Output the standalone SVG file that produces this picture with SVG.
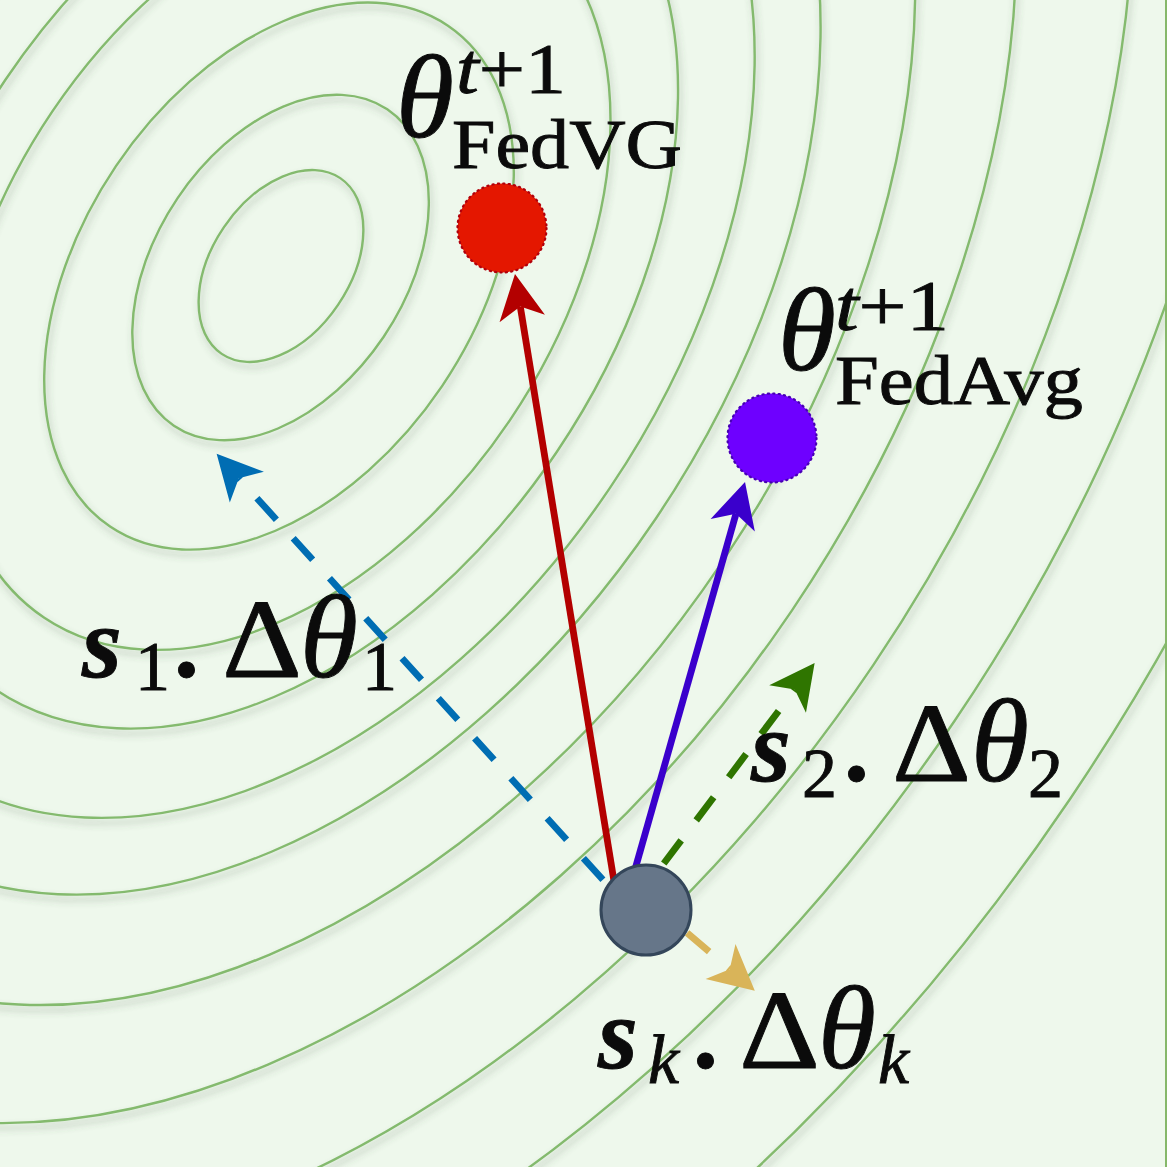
<svg xmlns="http://www.w3.org/2000/svg" width="1167" height="1167" viewBox="0 0 1167 1167">
<defs>
<style>
.ct{fill:none;stroke:#84ba6e;stroke-width:2.4}
.math{font-family:"Liberation Serif","DejaVu Serif",serif;fill:#0b0b0b;stroke:#0b0b0b;stroke-width:0.9}
.it{font-style:italic}
.bd{font-weight:bold}
.edge{fill:none;stroke-width:6.8;stroke-linecap:butt}
.dash{stroke-dasharray:29 25}
.dot{stroke-width:2.2;stroke-dasharray:1.2 4.2;stroke-linecap:round}
</style>
<filter id="shadow" filterUnits="userSpaceOnUse" x="0" y="0" width="1167" height="1167">
<feDropShadow dx="2" dy="5" stdDeviation="3.5" flood-color="#46584a" flood-opacity="0.38"/>
</filter>
<marker id="ah-red" markerUnits="userSpaceOnUse" viewBox="-15 -25 50 50" refX="0" refY="0" markerWidth="50" markerHeight="50" orient="auto"><path d="M33,0 L-12,-23 L0,0 L-12,23 Z" fill="#b30000"/></marker>
<marker id="ah-purple" markerUnits="userSpaceOnUse" viewBox="-15 -25 50 50" refX="0" refY="0" markerWidth="50" markerHeight="50" orient="auto"><path d="M33,0 L-12,-23 L0,0 L-12,23 Z" fill="#3a00cc"/></marker>
<marker id="ah-blue" markerUnits="userSpaceOnUse" viewBox="-15 -25 50 50" refX="0" refY="0" markerWidth="50" markerHeight="50" orient="auto"><path d="M33,0 L-12,-23 L0,0 L-12,23 Z" fill="#006db3"/></marker>
<marker id="ah-green" markerUnits="userSpaceOnUse" viewBox="-15 -25 50 50" refX="0" refY="0" markerWidth="50" markerHeight="50" orient="auto"><path d="M33,0 L-12,-23 L0,0 L-12,23 Z" fill="#2f7500"/></marker>
<marker id="ah-yellow" markerUnits="userSpaceOnUse" viewBox="-15 -25 50 50" refX="0" refY="0" markerWidth="50" markerHeight="50" orient="auto"><path d="M33,0 L-12,-23 L0,0 L-12,23 Z" fill="#d9b459"/></marker>
</defs>

<rect id="background" x="0" y="0" width="1167" height="1167" fill="#eef8ec"/>

<g id="contours" filter="url(#shadow)">
<g transform="translate(281,266) rotate(-56)">
<ellipse class="ct" cx="0" cy="0" rx="106" ry="69"/>
<ellipse class="ct" cx="-1.5" cy="0.5" rx="190.8" ry="124.2"/>
<ellipse class="ct" cx="-9.5" cy="4" rx="302.1" ry="196.7"/>
<ellipse class="ct" cx="0" cy="0" rx="424" ry="276"/>
<ellipse class="ct" cx="0" cy="0" rx="510.9" ry="332.6"/>
<ellipse class="ct" cx="0" cy="0" rx="609.5" ry="396.8"/>
<ellipse class="ct" cx="0" cy="0" rx="694.3" ry="452"/>
<ellipse class="ct" cx="0" cy="0" rx="816.2" ry="531.3"/>
<ellipse class="ct" cx="0" cy="0" rx="946.6" ry="616.2"/>
<ellipse class="ct" cx="0" cy="0" rx="1097.1" ry="714.2"/>
<ellipse class="ct" cx="0" cy="0" rx="1248.7" ry="812.8"/>
<ellipse class="ct" cx="0" cy="0" rx="1462.8" ry="952.2"/>
</g>
</g>
<rect id="frame-edge" x="1165" y="0" width="2" height="1167" fill="#86b86a"/>

<g id="connectors">
<path id="edge-fedvg" class="edge" stroke="#b30000" d="M614.8,886 L520.3,306.6" marker-end="url(#ah-red)"/>
<path id="edge-fedavg" class="edge" stroke="#3a00cc" d="M630.3,886 L736,513.7" marker-end="url(#ah-purple)"/>
<path id="edge-s1" class="edge dash" stroke="#006db3" stroke-dashoffset="33.3" d="M616.8,895 L238.8,478.2" marker-end="url(#ah-blue)"/>
<path id="edge-s2" class="edge dash" stroke="#2f7500" stroke-dashoffset="16" d="M640.9,893.9 L794.8,689.4" marker-end="url(#ah-green)"/>
<path id="edge-sk" class="edge dash" stroke="#d9b459" stroke-dashoffset="24" d="M664.3,913.3 L729.7,969.2" marker-end="url(#ah-yellow)"/>
</g>

<g id="node-theta-t">
<circle cx="646" cy="910" r="45" fill="#667689" stroke="#34465a" stroke-width="3"/>
</g>

<g id="node-fedvg">
<circle class="dot" cx="502" cy="228" r="44.5" fill="#e41700" stroke="#b0000c"/>
<text class="math it" font-size="118" x="396" y="137">θ</text>
<text class="math" font-size="72" x="456" y="93" textLength="110" lengthAdjust="spacingAndGlyphs"><tspan class="it">t</tspan>+1</text>
<text class="math" font-size="70" x="452" y="168" textLength="230" lengthAdjust="spacingAndGlyphs">FedVG</text>
</g>

<g id="node-fedavg">
<circle class="dot" cx="772" cy="438" r="44.5" fill="#6e00ff" stroke="#4800b4"/>
<text class="math it" font-size="118" x="778" y="370">θ</text>
<text class="math" font-size="72" x="835" y="330" textLength="114" lengthAdjust="spacingAndGlyphs"><tspan class="it">t</tspan>+1</text>
<text class="math" font-size="70" x="835" y="404" textLength="248" lengthAdjust="spacingAndGlyphs">FedAvg</text>
</g>

<g id="label-s1">
<text class="math it bd" font-size="102" x="82" y="677">s</text>
<text class="math" font-size="70" x="135" y="690">1</text>
<text class="math bd" font-size="100" x="174" y="677">.</text>
<text class="math" font-size="113" x="222" y="677" textLength="80" lengthAdjust="spacingAndGlyphs">Δ</text>
<text class="math it" font-size="118" x="300" y="677">θ</text>
<text class="math" font-size="70" x="362" y="690">1</text>
</g>

<g id="label-s2">
<text class="math it bd" font-size="102" x="751" y="781">s</text>
<text class="math" font-size="70" x="802" y="797">2</text>
<text class="math bd" font-size="100" x="844" y="781">.</text>
<text class="math" font-size="113" x="892" y="781" textLength="79" lengthAdjust="spacingAndGlyphs">Δ</text>
<text class="math it" font-size="118" x="971" y="781">θ</text>
<text class="math" font-size="70" x="1028" y="797">2</text>
</g>

<g id="label-sk">
<text class="math it bd" font-size="102" x="598" y="1068">s</text>
<text class="math it" font-size="70" x="648" y="1083">k</text>
<text class="math bd" font-size="100" x="693" y="1068">.</text>
<text class="math" font-size="113" x="739" y="1068" textLength="81" lengthAdjust="spacingAndGlyphs">Δ</text>
<text class="math it" font-size="118" x="818" y="1068">θ</text>
<text class="math it" font-size="70" x="878" y="1083">k</text>
</g>
</svg>
